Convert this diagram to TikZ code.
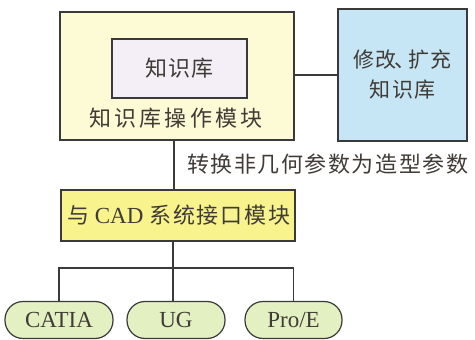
\documentclass[tikz,border=0pt]{standalone}
\usepackage{fontspec}
\setmainfont{Liberation Serif}
\newfontfamily\cjkA[LetterSpace=14]{Noto Sans CJK SC}
\newfontfamily\cjkB[LetterSpace=7]{Noto Sans CJK SC}
\newfontfamily\cjkD[LetterSpace=8]{Noto Sans CJK SC}
\newfontfamily\cjkC[LetterSpace=5]{Noto Sans CJK SC}
\definecolor{lnc}{HTML}{3A3A3A}
\definecolor{txc}{HTML}{403B36}
\definecolor{outerfill}{HTML}{FDFBD6}
\definecolor{innerfill}{HTML}{F4EFF6}
\definecolor{bluefill}{HTML}{C6E6F5}
\definecolor{yelfill}{HTML}{F8F38C}
\definecolor{grnfill}{HTML}{E2F0C2}
\begin{document}
\begin{tikzpicture}[x=1pt,y=-1pt,
  box/.style={draw=lnc,line width=1.2pt,inner sep=0pt},
  pill/.style={draw=lnc,line width=1.2pt,fill=grnfill,rounded corners=18pt,minimum height=37pt,inner sep=0pt,text=txc,font=\fontsize{23}{25}\selectfont},
  conn/.style={draw=lnc,line width=1.2pt},
  txt/.style={text=txc,inner sep=0pt}]
\useasboundingbox (0,0) rectangle (475,340);
\node[box,fill=outerfill,minimum width=234pt,minimum height=128pt] (outer) at (177,76) {};
\node[box,fill=innerfill,minimum width=135pt,minimum height=59pt] (inner) at (179.5,68.5) {};
\node[txt,font=\fontsize{22}{24}\selectfont\cjkC] (innert) at (inner.center) {知识库};
\node[txt,font=\fontsize{22}{24}\selectfont\cjkA] (outert) at (176,118) {知识库操作模块};
\node[box,fill=bluefill,minimum width=129pt,minimum height=132pt] (blue) at (402.5,75) {};
\node[txt,font=\fontsize{21}{30}\selectfont\cjkC,align=center] (bluet) at (blue.center) {修改\hspace{-3pt}、\hspace{-7pt}扩充\\知识库};
\node[box,fill=yelfill,minimum width=234pt,minimum height=51pt] (yel) at (178,215.5) {};
\node[txt,font=\fontsize{22}{24}\selectfont] (yelt) at (179,215.5) {{\cjkD 与}\hspace{5pt}{\fontsize{23}{25}\selectfont CAD}\hspace{6pt}{\cjkD 系统接口模块}};
\node[txt,font=\fontsize{22}{24}\selectfont\cjkB,anchor=west] (lab) at (187,164) {转换非几何参数为造型参数};
\node[pill,minimum width=108pt] (catia) at (59,320) {CATIA};
\node[pill,minimum width=98pt] (ug) at (176,320) {UG};
\node[pill,minimum width=97pt] (proe) at (293.5,320) {Pro/E};
\draw[conn] (outer.east |- blue.center) -- (blue.west);
\draw[conn] (outer.south -| 174,0) -- (yel.north -| 174,0);
\coordinate (bus) at (173,268);
\draw[conn] (yel.south -| bus) -- (bus);
\draw[conn] (catia.north) -- (catia.north |- bus) -- (proe.north |- bus) -- (proe.north);
\draw[conn] (bus) -- (bus |- ug.north);
\end{tikzpicture}
\end{document}
